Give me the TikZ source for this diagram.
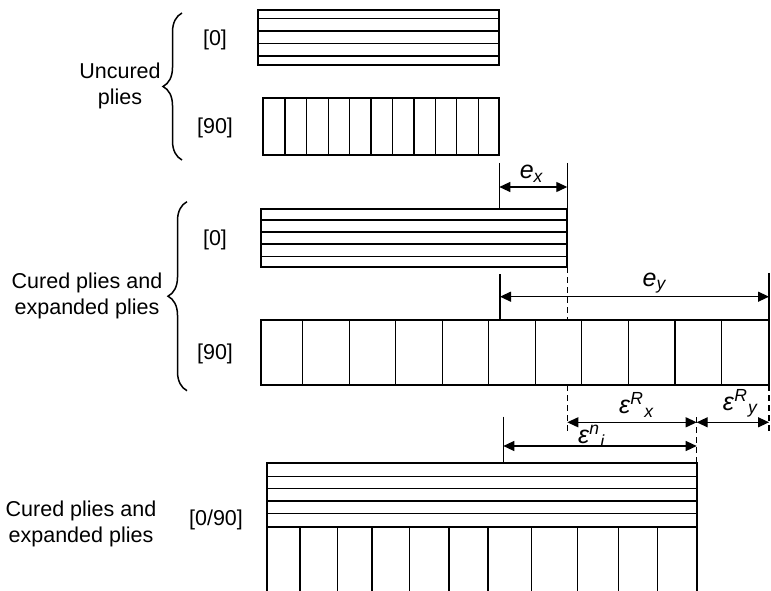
\documentclass[tikz,border=0pt]{standalone}
\usepackage{fontspec}
\setmainfont{Liberation Sans}
\usetikzlibrary{arrows.meta, decorations.pathreplacing}

\begin{document}
\begin{tikzpicture}[x=0.4pt, y=-0.4pt,
    every node/.style={font=\fontsize{8.6}{10.4}\selectfont, inner sep=0pt},
    dimlabel/.style={anchor=south, font=\fontsize{10}{12}\selectfont},
    plyedge/.style={line width=0.9pt},
    fibre/.style={line width=0.5pt},
    guide/.style={line width=0.5pt},
    guidedash/.style={line width=0.5pt, dash pattern=on 2.4pt off 1.6pt},
    dimarrow/.style={{Triangle[length=4.4pt,width=4pt]}-{Triangle[length=4.4pt,width=4pt]}, line width=0.5pt},
    curly/.style={decorate, decoration={brace, amplitude=7.6pt}, line width=0.6pt},
]
\useasboundingbox (0,0) rectangle (771,591);

%% Capas sin curar
\draw[plyedge] (258,10) rectangle (499.3,65);
\foreach \y in {18.3,31,43.3,56} \draw[fibre] (258,\y) -- (499.3,\y);
\draw[plyedge] (263.3,98.3) rectangle (499.3,155);
\foreach \x in {285,306.7,328.3,349.7,371,392.3,414,435.3,456.7,478.7}
    \draw[fibre] (\x,98.3) -- (\x,155);

\draw[curly] (182,160) -- (182,13);
\node[align=center] at (120,86)   (uncured) {Uncured\\plies};
\node at (215,40)  (lblua) {[0]};
\node at (215,128) (lblub) {[90]};

%% Capas curadas y expandidas
\draw[plyedge] (260.7,209) rectangle (567.3,267.3);
\foreach \y in {220,232,244,256.7} \draw[fibre] (260.7,\y) -- (567.3,\y);
\draw[plyedge] (260.7,320) rectangle (769,385.3);
\foreach \x in {302.7,349.2,395.7,442.2,488.7,535.3,581.7,628.3,675,721.3}
    \draw[fibre] (\x,320) -- (\x,385.3);

\draw[curly] (187,390.7) -- (187,201.7);
\node[align=center] at (87,296)   (cured) {Cured plies and\\expanded plies};
\node at (215,240) (lblca) {[0]};
\node at (215,354) (lblcb) {[90]};

%% Laminado [0/90]
\draw[plyedge] (267.3,591) -- (267.3,462.7) -- (696.7,462.7) -- (696.7,591);
\foreach \y in {476.7,488.7,501,513.7} \draw[fibre] (267.3,\y) -- (696.7,\y);
\draw[plyedge] (267.3,526.7) -- (696.7,526.7);
\foreach \x in {300,337.7,372,409.7,449,488,531.7,577.7,618.7,657.3}
    \draw[fibre] (\x,526.7) -- (\x,591);

\node[align=center] at (81,524) (laminate) {Cured plies and\\expanded plies};
\node at (216,520) (lbllam) {[0/90]};

%% Lineas de referencia
\draw[guide] (499.3,163) -- (499.3,209);
\draw[guide] (567.3,163) -- (567.3,209);
\draw[guide] (500,274.3) -- (500,320);
\draw[guide] (769,273) -- (769,320);
\draw[guidedash] (567.3,267.3) -- (567.3,320);
\draw[guidedash] (567.3,385.3) -- (567.3,435);
\draw[guidedash] (769,385.3) -- (769,435);
\draw[guidedash] (696.7,417) -- (696.7,462.7);
\draw[guide] (503.3,416.7) -- (503.3,462.7);

%% Cotas
\coordinate (exL)  at (499.3,187);
\coordinate (exR)  at (567.3,187);
\coordinate (eyL)  at (500,296.7);
\coordinate (eyR)  at (769,296.7);
\coordinate (RxL)  at (567.3,422.3);
\coordinate (RxR)  at (696.7,422.3);
\coordinate (RyR)  at (769,422.3);
\coordinate (niL)  at (503.3,446);
\coordinate (niR)  at (696.7,446);

\draw[dimarrow] (exL) -- (exR);
\draw[dimarrow] (eyL) -- (eyR);
\draw[dimarrow] (RxL) -- (RxR);
\draw[dimarrow] (RxR) -- (RyR);
\draw[dimarrow] (niL) -- (niR);

\node[dimlabel] at (532,183)   (ex) {\textit{e}\textsubscript{\textit{x}}};
\node[dimlabel] at (655,294)   (ey) {\textit{e}\textsubscript{\textit{y}}};
\node[dimlabel] at (637,418)   (Rx) {\textit{ε}\textsuperscript{\textit{R}}\textsubscript{\textit{x}}};
\node[dimlabel] at (741,418)   (Ry) {\textit{ε}\textsuperscript{\textit{R}}\textsubscript{\textit{y}}};
\node[dimlabel] at (592,448)   (ni) {\textit{ε}\textsuperscript{\textit{n}}\textsubscript{\textit{i}}};

\end{tikzpicture}
\end{document}
